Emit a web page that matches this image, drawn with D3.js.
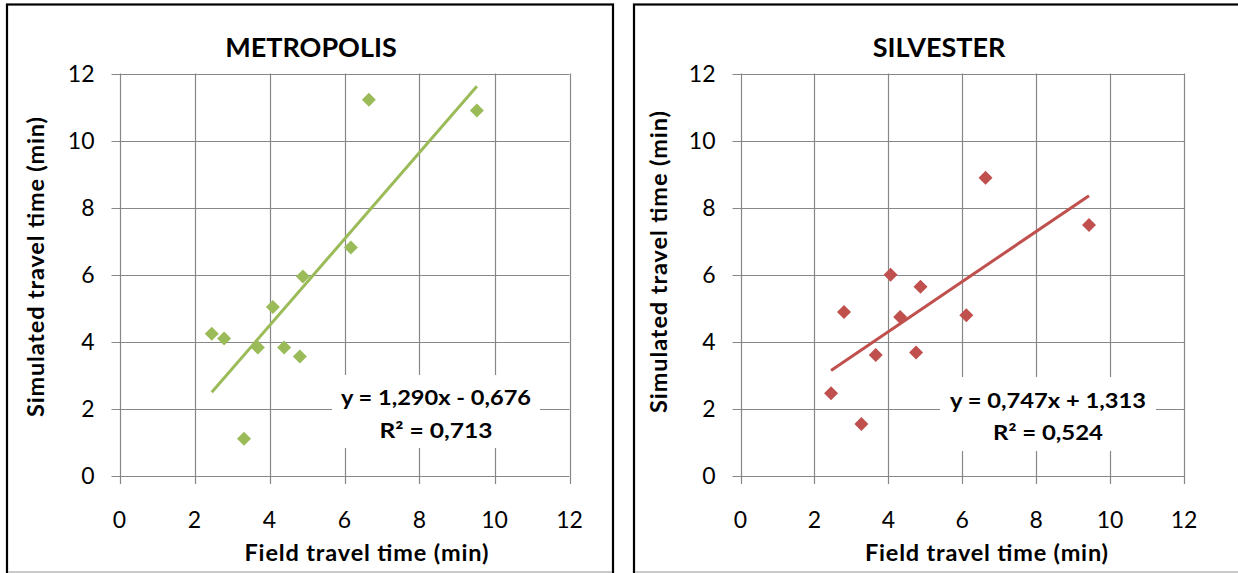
<!DOCTYPE html>
<html>
<head>
<meta charset="utf-8">
<script src="https://cdn.jsdelivr.net/npm/d3@7"></script>
<style>
  html, body { margin: 0; padding: 0; background: #ffffff; }
  svg { display: block; }
  text { font-family: Lato, "Open Sans", sans-serif; fill: #000; }
</style>
</head>
<body>
<svg id="chart" width="1238" height="573"></svg>
<script>
// ---- data ----
const titles = ["METROPOLIS", "SILVESTER"];
const fieldMetropolis = [2.46, 2.79, 3.32, 3.69, 4.09, 4.39, 4.81, 4.89, 6.17, 6.65, 9.53];
const simMetropolis   = [4.24, 4.10, 1.11, 3.83, 5.04, 3.83, 3.56, 5.95, 6.81, 11.22, 10.90];
const fieldSilvester  = [2.45, 2.80, 3.27, 3.66, 4.06, 4.32, 4.75, 4.87, 6.11, 6.63, 9.43];
const simSilvester    = [2.47, 4.89, 1.55, 3.61, 6.00, 4.74, 3.68, 5.64, 4.79, 8.89, 7.48];
const trendSlopes     = [1.290, 0.747];
const trendIntercepts = [-0.676, 1.313];
const equationLabels  = ["y = 1,290x - 0,676", "y = 0,747x + 1,313"];
const r2Labels        = ["R\u00B2 = 0,713", "R\u00B2 = 0,524"];
const xTicks = [0, 2, 4, 6, 8, 10, 12];
const yTicks = [0, 2, 4, 6, 8, 10, 12];
const xAxisTitle = "Field travel time (min)";
const yAxisTitle = "Simulated travel time (min)";

// ---- layout ----
const panels = [
  { frame: [7, 4.5, 606, 575], plotX: [119.5, 569.5], plotY: [476, 73.5], color: "#9BBB59",
    fx: fieldMetropolis, fy: simMetropolis, titleX: 311, yTitleX: 36, yTitleY: 267,
    xTitle: [366.5, 244], yTitleLen: 300,
    label: { cx: 436, box: [332, 375, 208, 73], b1: 404.5, b2: 437.5, w1: 190, w2: 113 } },
  { frame: [634, 4.5, 620, 575], plotX: [740.5, 1184], plotY: [476, 73.5], color: "#C0504D",
    fx: fieldSilvester, fy: simSilvester, titleX: 939, yTitleX: 659, yTitleY: 262,
    xTitle: [986.5, 243], yTitleLen: 302,
    label: { cx: 1048, box: [940, 377, 216, 74], b1: 408, b2: 439.5, w1: 196, w2: 110 } }
];

const svg = d3.select("#chart");
const gridColor = "#878787";

panels.forEach((p, i) => {
  const g = svg.append("g");
  // frame
  g.append("rect")
    .attr("x", p.frame[0]).attr("y", p.frame[1])
    .attr("width", p.frame[2]).attr("height", p.frame[3])
    .attr("fill", "#fff").attr("stroke", "#000").attr("stroke-width", 2.2);
  g.append("line")
    .attr("x1", p.frame[0] + 1).attr("x2", p.frame[0] + p.frame[2] - 1)
    .attr("y1", 572).attr("y2", 572)
    .attr("stroke", "#b8b8b8").attr("stroke-width", 1.5);

  const x = d3.scaleLinear().domain([0, 12]).range(p.plotX);
  const y = d3.scaleLinear().domain([0, 12]).range(p.plotY);

  // horizontal gridlines (with ticks to the left)
  g.append("g").selectAll("line").data(yTicks).join("line")
    .attr("x1", p.plotX[0] - 8).attr("x2", p.plotX[1])
    .attr("y1", d => Math.round(y(d)) + 0.5).attr("y2", d => Math.round(y(d)) + 0.5)
    .attr("stroke", gridColor).attr("stroke-width", 1.2);
  // vertical gridlines (with ticks below)
  g.append("g").selectAll("line").data(xTicks).join("line")
    .attr("x1", d => Math.round(x(d)) + 0.5).attr("x2", d => Math.round(x(d)) + 0.5)
    .attr("y1", p.plotY[1]).attr("y2", p.plotY[0] + 8)
    .attr("stroke", gridColor).attr("stroke-width", 1.2);

  // tick labels
  g.append("g").selectAll("text").data(yTicks).join("text")
    .attr("x", p.plotX[0] - 25).attr("y", d => y(d))
    .attr("dy", "0.36em").attr("text-anchor", "end")
    .attr("font-size", 23).attr("fill", "#222")
    .text(d => d);
  g.append("g").selectAll("text").data(xTicks).join("text")
    .attr("x", d => x(d)).attr("y", 528)
    .attr("text-anchor", "middle")
    .attr("font-size", 23).attr("fill", "#222")
    .text(d => d);

  // titles
  g.append("text").attr("x", p.titleX).attr("y", 56.5)
    .attr("text-anchor", "middle").attr("font-size", 27).attr("font-weight", "bold")
    .text(titles[i]);
  g.append("text").attr("x", p.xTitle[0]).attr("y", 561)
    .attr("text-anchor", "middle").attr("font-size", 23.5).attr("font-weight", "bold")
    .attr("textLength", p.xTitle[1]).attr("lengthAdjust", "spacing")
    .text(xAxisTitle);
  g.append("text")
    .attr("transform", `translate(${p.yTitleX},${p.yTitleY}) rotate(-90)`)
    .attr("text-anchor", "middle").attr("dy", "0.35em")
    .attr("font-size", 23.5).attr("font-weight", "bold")
    .attr("textLength", p.yTitleLen).attr("lengthAdjust", "spacing")
    .text(yAxisTitle);

  // trendline
  const xmin = d3.min(p.fx), xmax = d3.max(p.fx);
  const lineData = [xmin, xmax].map(v => [v, trendSlopes[i] * v + trendIntercepts[i]]);
  g.append("path")
    .attr("d", d3.line().x(d => x(d[0])).y(d => y(d[1]))(lineData))
    .attr("stroke", p.color).attr("stroke-width", 3).attr("fill", "none");

  // markers (square diamonds)
  const r = 7;
  const pts = p.fx.map((v, k) => [v, p.fy[k]]);
  g.append("g").selectAll("path").data(pts).join("path")
    .attr("transform", d => `translate(${x(d[0])},${y(d[1])})`)
    .attr("d", `M0,${-r}L${r},0L0,${r}L${-r},0Z`)
    .attr("fill", p.color);

  // equation label with white background
  const L = p.label;
  g.append("rect").attr("x", L.box[0]).attr("y", L.box[1])
    .attr("width", L.box[2]).attr("height", L.box[3]).attr("fill", "#fff");
  g.append("text").attr("x", L.cx).attr("y", L.b1)
    .attr("text-anchor", "middle").attr("font-size", 21).attr("font-weight", "bold")
    .attr("fill", "#111").attr("textLength", L.w1).attr("lengthAdjust", "spacingAndGlyphs")
    .text(equationLabels[i]);
  g.append("text").attr("x", L.cx).attr("y", L.b2)
    .attr("text-anchor", "middle").attr("font-size", 21).attr("font-weight", "bold")
    .attr("fill", "#111").attr("textLength", L.w2).attr("lengthAdjust", "spacingAndGlyphs")
    .text(r2Labels[i]);
});
</script>
</body>
</html>
